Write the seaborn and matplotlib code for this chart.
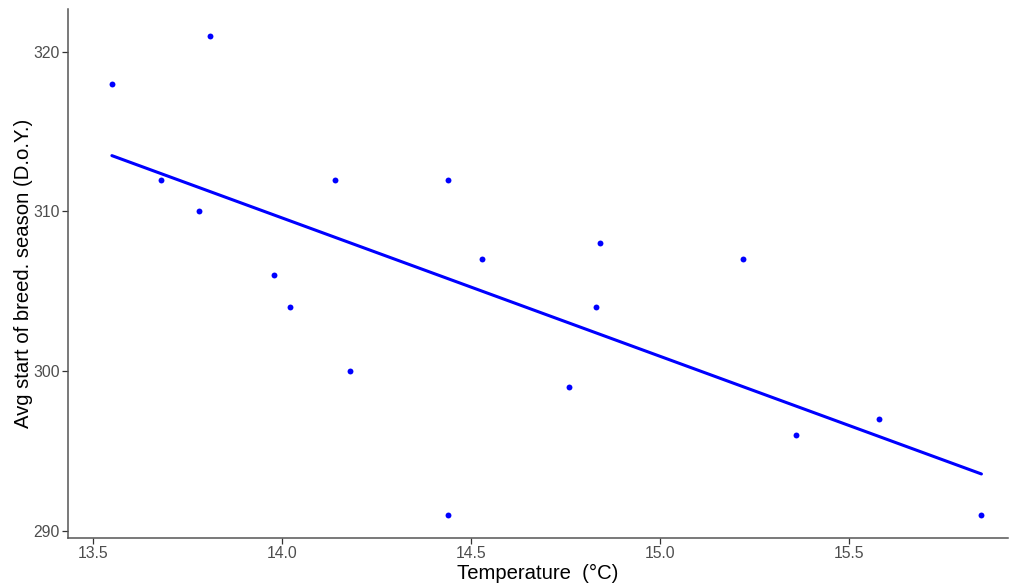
import pandas as pd
import seaborn as sns
import matplotlib.pyplot as plt

temperature = [13.55, 13.81, 13.68, 13.78, 14.14, 14.44, 14.53, 14.84, 14.83,
               14.76, 15.22, 15.36, 15.58, 15.85, 13.98, 14.02, 14.18, 14.44]
start_doy = [318, 321, 312, 310, 312, 312, 307, 308, 304,
             299, 307, 296, 297, 291, 306, 304, 300, 291]
x_ticks = [13.5, 14.0, 14.5, 15.0, 15.5]
y_ticks = [290, 300, 310, 320]

df = pd.DataFrame({'temp': temperature, 'doy': start_doy})

sns.set_theme(style="white")
plt.rcParams['font.family'] = ['Liberation Sans', 'DejaVu Sans']

fig = plt.figure(figsize=(10.11, 5.84), dpi=100)
ax = fig.add_axes([0.0673, 0.0788, 0.93, 0.905])

sns.regplot(x='temp', y='doy', data=df, ci=None, ax=ax,
            scatter_kws={'s': 18, 'color': '#0000ff', 'linewidths': 0, 'alpha': 1},
            line_kws={'color': '#0000ff', 'linewidth': 2.2})

ax.set_xlim(13.434, 15.921)
ax.set_ylim(289.59, 322.63)
ax.set_xticks(x_ticks)
ax.set_xticklabels(['%.1f' % t for t in x_ticks])
ax.set_yticks(y_ticks)
ax.set_yticklabels([str(t) for t in y_ticks])

for side in ['top', 'right']:
    ax.spines[side].set_visible(False)
for side in ['left', 'bottom']:
    ax.spines[side].set_color('#555555')
    ax.spines[side].set_linewidth(1.1)

ax.tick_params(axis='both', which='major', direction='out', length=4, width=0.9,
               color='#333333', labelcolor='#4d4d4d', labelsize=11.3, pad=2,
               bottom=True, left=True)

ax.set_xlabel('Temperature  (°C)', fontsize=14.6, color='black', labelpad=2)
ax.set_ylabel('Avg start of breed. season (D.o.Y.)', fontsize=14.6, color='black', labelpad=0)

plt.savefig('out.png', dpi=100)
